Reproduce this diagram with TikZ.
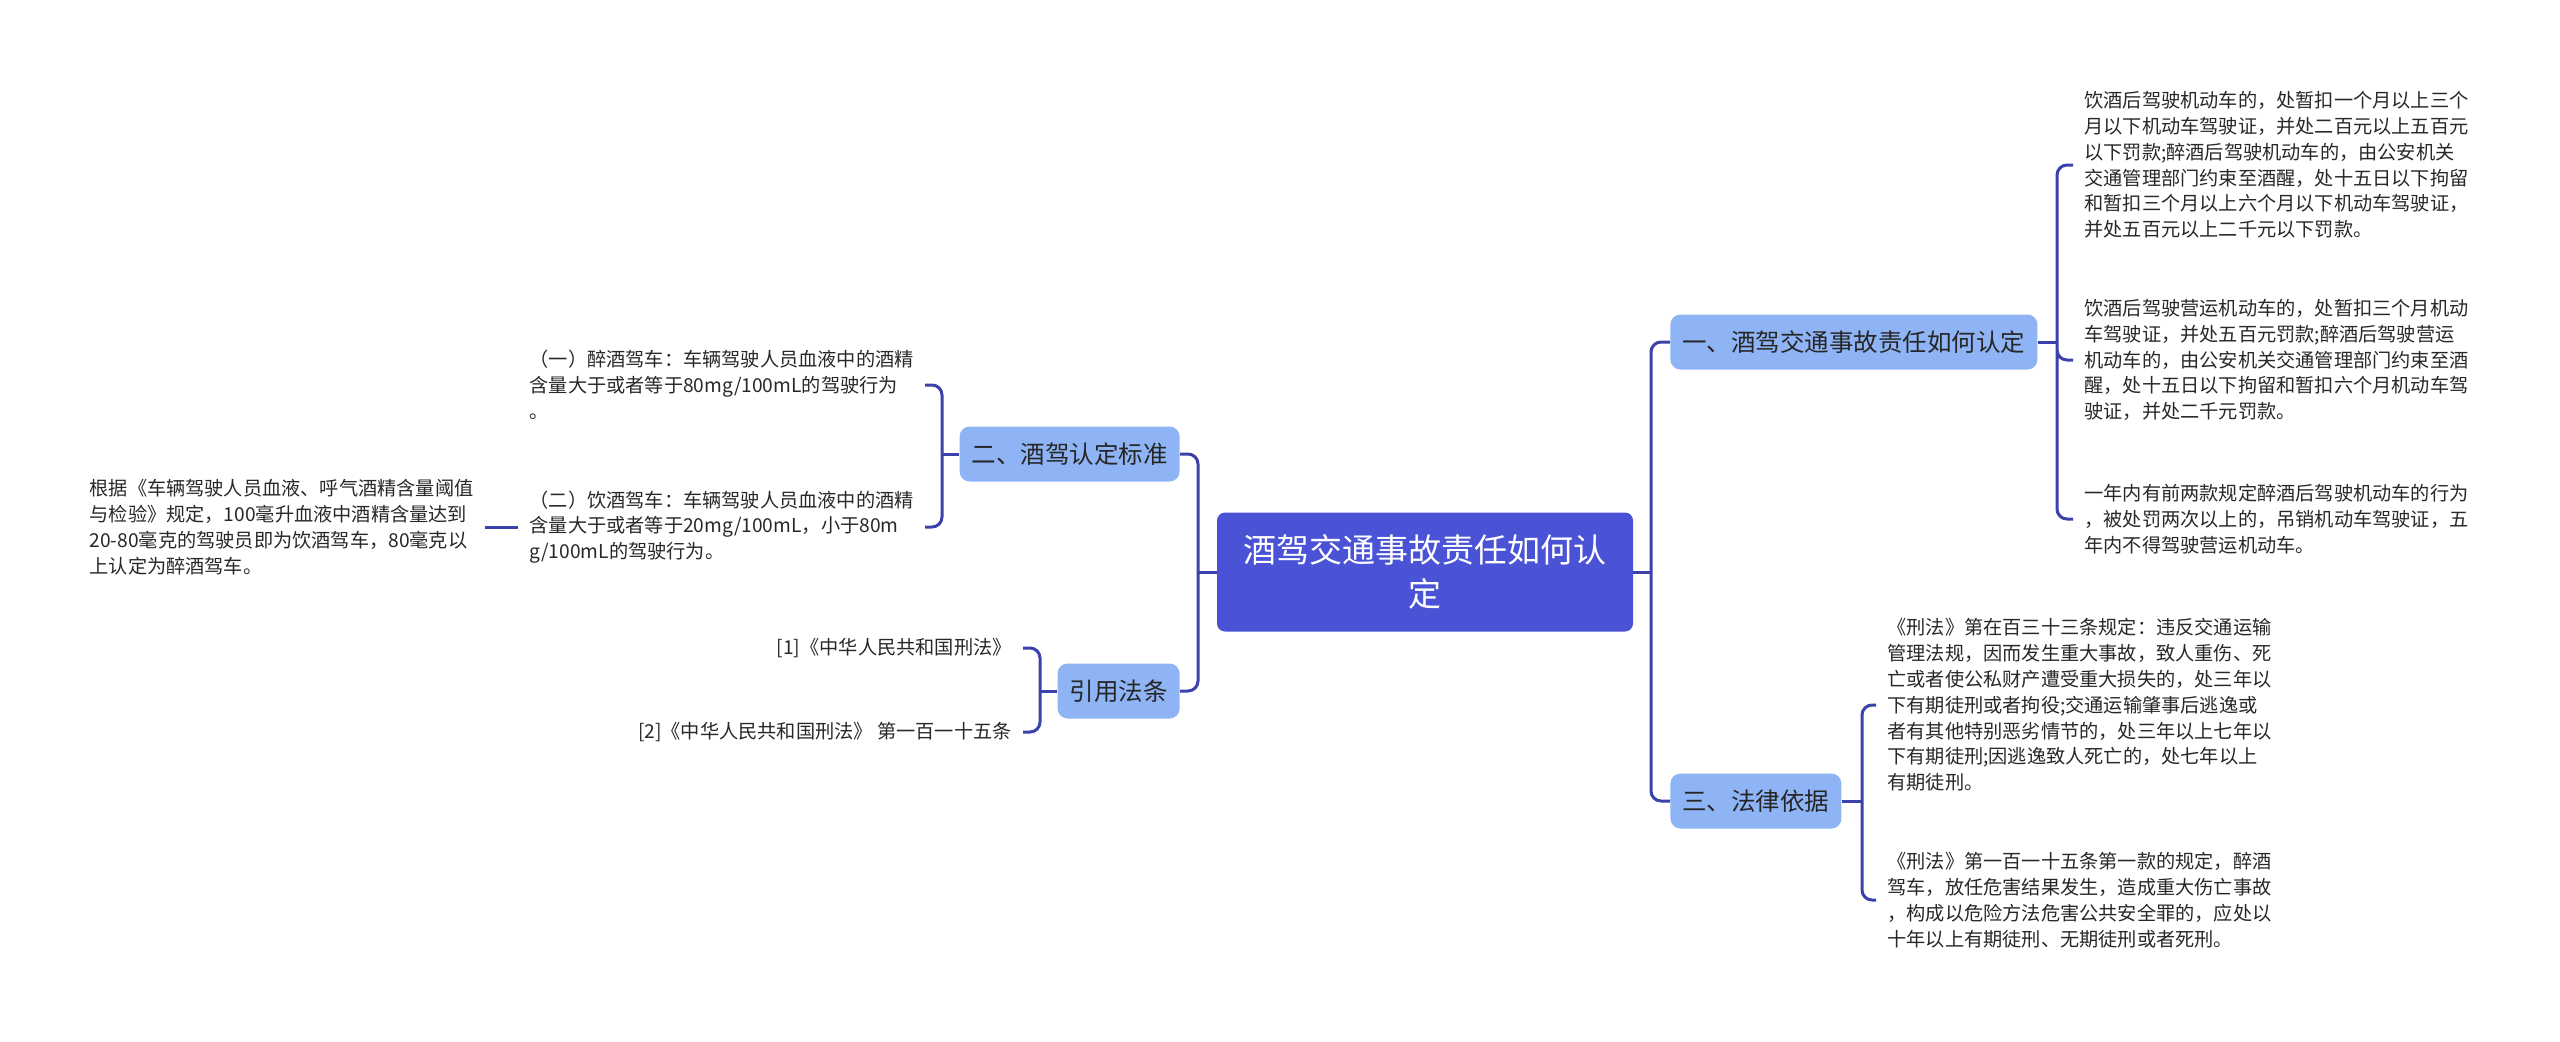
\documentclass[tikz,border=0pt]{standalone}
\usepackage{fontspec}
\setmainfont{Noto Sans CJK SC}

\definecolor{rootblue}{RGB}{74,82,214}
\definecolor{branchblue}{RGB}{143,180,245}
\definecolor{linkblue}{RGB}{60,66,172}
\definecolor{leaftext}{RGB}{40,40,40}

\begin{document}
\begin{tikzpicture}[x=0.5pt,y=-0.5pt,
    conn/.style={draw=linkblue,line width=1.5pt,rounded corners=5pt},
    root/.style={fill=rootblue,text=white,rounded corners=4pt,align=center,
      minimum width=208pt,minimum height=59.5pt,inner sep=0pt,
      font=\fontsize{16.5}{22}\selectfont},
    branch/.style={fill=branchblue,text=black!85,rounded corners=5pt,
      inner xsep=6pt,minimum height=27.5pt,font=\fontsize{12.25}{14}\selectfont},
    leaf/.style={text=leaftext,align=left,inner xsep=5.5pt,inner ysep=2pt,
      font=\fontsize{9.6}{12.9}\selectfont}]

  \fill[white] (0,0) rectangle (2560,1041);

  \node[root] (r) at (1425,572) {酒驾交通事故责任如何认\\定};

  \node[branch,anchor=west] (b1) at (1670,342) {一、酒驾交通事故责任如何认定};
  \node[branch,anchor=east] (b2) at (1180,454) {二、酒驾认定标准};
  \node[branch,anchor=west] (b3) at (1670,801) {三、法律依据};
  \node[branch,anchor=east] (b4) at (1180,691) {引用法条};

  \node[leaf,anchor=west] (l1a) at (2073,165) {饮酒后驾驶机动车的，处暂扣一个月以上三个\\月以下机动车驾驶证，并处二百元以上五百元\\以下罚款;醉酒后驾驶机动车的，由公安机关\\交通管理部门约束至酒醒，处十五日以下拘留\\和暂扣三个月以上六个月以下机动车驾驶证，\\并处五百元以上二千元以下罚款。};
  \node[leaf,anchor=west] (l1b) at (2073,360) {饮酒后驾驶营运机动车的，处暂扣三个月机动\\车驾驶证，并处五百元罚款;醉酒后驾驶营运\\机动车的，由公安机关交通管理部门约束至酒\\醒，处十五日以下拘留和暂扣六个月机动车驾\\驶证，并处二千元罚款。};
  \node[leaf,anchor=west] (l1c) at (2073,519) {一年内有前两款规定醉酒后驾驶机动车的行为\\，被处罚两次以上的，吊销机动车驾驶证，五\\年内不得驾驶营运机动车。};

  \node[leaf,anchor=west] (l3a) at (1876,705) {《刑法》第在百三十三条规定：违反交通运输\\管理法规，因而发生重大事故，致人重伤、死\\亡或者使公私财产遭受重大损失的，处三年以\\下有期徒刑或者拘役;交通运输肇事后逃逸或\\者有其他特别恶劣情节的，处三年以上七年以\\下有期徒刑;因逃逸致人死亡的，处七年以上\\有期徒刑。};
  \node[leaf,anchor=west] (l3b) at (1876,900) {《刑法》第一百一十五条第一款的规定，醉酒\\驾车，放任危害结果发生，造成重大伤亡事故\\，构成以危险方法危害公共安全罪的，应处以\\十年以上有期徒刑、无期徒刑或者死刑。};

  \node[leaf,anchor=east] (l2a) at (925,385) {（一）醉酒驾车：车辆驾驶人员血液中的酒精\\含量大于或者等于80mg/100mL的驾驶行为\\。};
  \node[leaf,anchor=east] (l2b) at (925,527) {（二）饮酒驾车：车辆驾驶人员血液中的酒精\\含量大于或者等于20mg/100mL，小于80m\\g/100mL的驾驶行为。};
  \node[leaf,anchor=east] (l0) at (485,527) {根据《车辆驾驶人员血液、呼气酒精含量阈值\\与检验》规定，100毫升血液中酒精含量达到\\20-80毫克的驾驶员即为饮酒驾车，80毫克以\\上认定为醉酒驾车。};

  \node[leaf,anchor=east] (l4a) at (1023,648) {[1]《中华人民共和国刑法》};
  \node[leaf,anchor=east] (l4b) at (1023,732) {[2]《中华人民共和国刑法》 第一百一十五条};

  \coordinate (jr) at (1651,572);
  \coordinate (jl) at (1198,572);
  \coordinate (j1) at (2057,342);
  \coordinate (j2) at (942,454);
  \coordinate (j3) at (1862,801);
  \coordinate (j4) at (1040,691);

  \draw[conn] (r.east) -- (jr) (r.west) -- (jl);
  \draw[conn] (jr) |- (b1.west) (jr) |- (b3.west);
  \draw[conn] (jl) |- (b2.east) (jl) |- (b4.east);

  \draw[conn] (b1.east) -- (j1);
  \draw[conn] (j1) |- (l1a.west) (j1) |- (l1b.west) (j1) |- (l1c.west);

  \draw[conn] (b3.east) -- (j3);
  \draw[conn] (j3) |- (l3a.west) (j3) |- (l3b.west);

  \draw[conn] (b2.west) -- (j2);
  \draw[conn] (j2) |- (l2a.east) (j2) |- (l2b.east);
  \draw[conn] (l2b.west) -- (l0.east);

  \draw[conn] (b4.west) -- (j4);
  \draw[conn] (j4) |- (l4a.east) (j4) |- (l4b.east);

\end{tikzpicture}
\end{document}
